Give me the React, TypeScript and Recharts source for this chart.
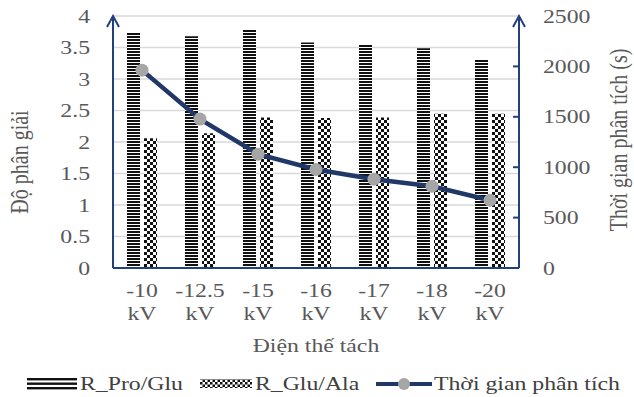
import { Bar, CartesianGrid, ComposedChart, Legend, Line, XAxis, YAxis } from "recharts";

const categories = ["-10 kV", "-12.5 kV", "-15 kV", "-16 kV", "-17 kV", "-18 kV", "-20 kV"];
const proGlu = [3.73, 3.68, 3.78, 3.58, 3.54, 3.49, 3.31];
const gluAla = [2.06, 2.14, 2.39, 2.38, 2.39, 2.45, 2.45];
const analysisTime = [1963, 1477, 1129, 977, 881, 811, 672];
const leftTicks = [0, 0.5, 1, 1.5, 2, 2.5, 3, 3.5, 4];
const rightTicks = [0, 500, 1000, 1500, 2000, 2500];

const data = categories.map((c, i) => ({
  voltage: c,
  proGlu: proGlu[i],
  gluAla: gluAla[i],
  time: analysisTime[i],
}));

const NAVY = "#22407e";
const LINE = "#1f3868";
const TEXT = "#595959";
const FONT = "'Liberation Serif', 'Times New Roman', serif";
const FS = 19;
const SX = 1.25; // the source picture is stretched sideways

// text stretched horizontally around its anchor point
function Wide({ x, y, anchor = "middle", size = FS, fill = TEXT, rotate = 0, children }: any) {
  return (
    <text transform={`translate(${x} ${y}) scale(${SX} 1) rotate(${rotate})`} textAnchor={anchor}
      fontFamily={FONT} fontSize={size} fill={fill}>
      {children}
    </text>
  );
}

function XTick({ x, y, payload }: any) {
  const [num, unit] = String(payload.value).split(" ");
  return (
    <g>
      <Wide x={x} y={y + 29}>{num}</Wide>
      <Wide x={x} y={y + 52}>{unit}</Wide>
    </g>
  );
}

function LeftTick({ x, y, payload }: any) {
  return <Wide x={x} y={y + 6.5} anchor="end">{payload.value}</Wide>;
}

function RightTick({ x, y, payload }: any) {
  const axisX = x - 24;
  return (
    <g>
      {payload.value !== 2500 && (
        <line x1={axisX - 6} y1={y} x2={axisX} y2={y} stroke={NAVY} strokeWidth={2} />
      )}
      <Wide x={x} y={y + 6.5} anchor="start">{payload.value}</Wide>
    </g>
  );
}

function XTitle({ viewBox }: any) {
  return <Wide x={viewBox.x + viewBox.width / 2} y={352}>Điện thế tách</Wide>;
}

function LeftLabel() {
  return <Wide x={28} y={162} rotate={-90} size={20}>Độ phân giải</Wide>;
}

function RightLabel() {
  return <Wide x={627} y={140} rotate={-90} size={20}>Thời gian phân tích (s)</Wide>;
}

const legendLayout: Record<string, { sx: number; sw: number; tx: number }> = {
  proGlu: { sx: 27, sw: 50, tx: 80 },
  gluAla: { sx: 200, sw: 52, tx: 255 },
  time: { sx: 376, sw: 56, tx: 434 },
};

function LegendContent({ payload }: any) {
  return (
    <svg width={634} height={30} style={{ display: "block", overflow: "visible" }}>
      {(payload || []).map((it: any) => {
        const l = legendLayout[it.dataKey];
        if (!l) return null;
        let swatch;
        if (it.dataKey === "proGlu")
          swatch = (
            <g>
              <rect x={l.sx} y={11} width={l.sw} height={2.4} fill="#111" />
              <rect x={l.sx} y={15.5} width={l.sw} height={2.4} fill="#111" />
              <rect x={l.sx} y={20} width={l.sw} height={2.4} fill="#111" />
            </g>
          );
        else if (it.dataKey === "gluAla")
          swatch = <rect x={l.sx} y={12} width={l.sw} height={9} fill="url(#checkerSmall)" />;
        else
          swatch = (
            <g>
              <line x1={l.sx} y1={17} x2={l.sx + l.sw} y2={17} stroke={LINE} strokeWidth={4} />
              <circle cx={l.sx + l.sw / 2} cy={17} r={6} fill="#a6a6a6" />
            </g>
          );
        return (
          <g key={it.dataKey}>
            {swatch}
            <Wide x={l.tx} y={23} anchor="start" fill="#404040">{it.value}</Wide>
          </g>
        );
      })}
    </svg>
  );
}

export default function App() {
  return (
    <div style={{ position: "absolute", left: 0, top: 0, background: "#fff" }}>
      <ComposedChart width={634} height={397} data={data}
        margin={{ top: 16, right: 0, bottom: 0, left: 0 }} barGap={4}>
        <defs>
          <pattern id="stripes" width={4} height={3} patternUnits="userSpaceOnUse">
            <rect width={4} height={3} fill="#fff" />
            <rect width={4} height={2} fill="#111" />
          </pattern>
          <pattern id="checker" width={6} height={6} patternUnits="userSpaceOnUse">
            <rect width={6} height={6} fill="#fff" />
            <rect x={0} y={0} width={3} height={3} fill="#111" />
            <rect x={3} y={3} width={3} height={3} fill="#111" />
          </pattern>
          <pattern id="checkerSmall" width={5} height={5} patternUnits="userSpaceOnUse">
            <rect width={5} height={5} fill="#fff" />
            <rect x={0} y={0} width={2.5} height={2.5} fill="#111" />
            <rect x={2.5} y={2.5} width={2.5} height={2.5} fill="#111" />
          </pattern>
          <marker id="arrowHead" viewBox="0 0 14 14" markerWidth={14} markerHeight={14}
            markerUnits="userSpaceOnUse" refX={12} refY={7} orient="auto-start-reverse">
            <path d="M1,1 L12,7 L1,13" fill="none" stroke={NAVY} strokeWidth={2} />
          </marker>
        </defs>
        <CartesianGrid yAxisId="left" vertical={false} stroke="#d9d9d9" strokeWidth={1.5} />
        <XAxis dataKey="voltage" height={99} tick={<XTick />} tickLine={false} tickSize={0}
          tickMargin={0} interval={0}
          axisLine={{ stroke: NAVY, strokeWidth: 2 }}
          label={<XTitle />} />
        <YAxis yAxisId="left" orientation="left" width={113} domain={[0, 4]} ticks={leftTicks}
          tickLine={false} tickSize={0} tickMargin={23} tick={<LeftTick />}
          axisLine={{ stroke: NAVY, strokeWidth: 2, markerStart: "url(#arrowHead)" }}
          label={<LeftLabel />} />
        <YAxis yAxisId="right" orientation="right" width={115} domain={[0, 2500]} ticks={rightTicks}
          tickLine={false} tickSize={0} tickMargin={24} tick={<RightTick />}
          axisLine={{ stroke: NAVY, strokeWidth: 2, markerStart: "url(#arrowHead)" }}
          label={<RightLabel />} />
        <Legend content={<LegendContent />} />
        <Bar yAxisId="left" dataKey="proGlu" name="R_Pro/Glu" fill="url(#stripes)" barSize={13}
          isAnimationActive={false} />
        <Bar yAxisId="left" dataKey="gluAla" name="R_Glu/Ala" fill="url(#checker)" barSize={13}
          isAnimationActive={false} />
        <Line yAxisId="right" dataKey="time" name="Thời gian phân tích" stroke={LINE}
          strokeWidth={4.5} dot={{ r: 6.5, fill: "#a6a6a6", stroke: "none" }}
          activeDot={false} isAnimationActive={false} />
      </ComposedChart>
    </div>
  );
}
